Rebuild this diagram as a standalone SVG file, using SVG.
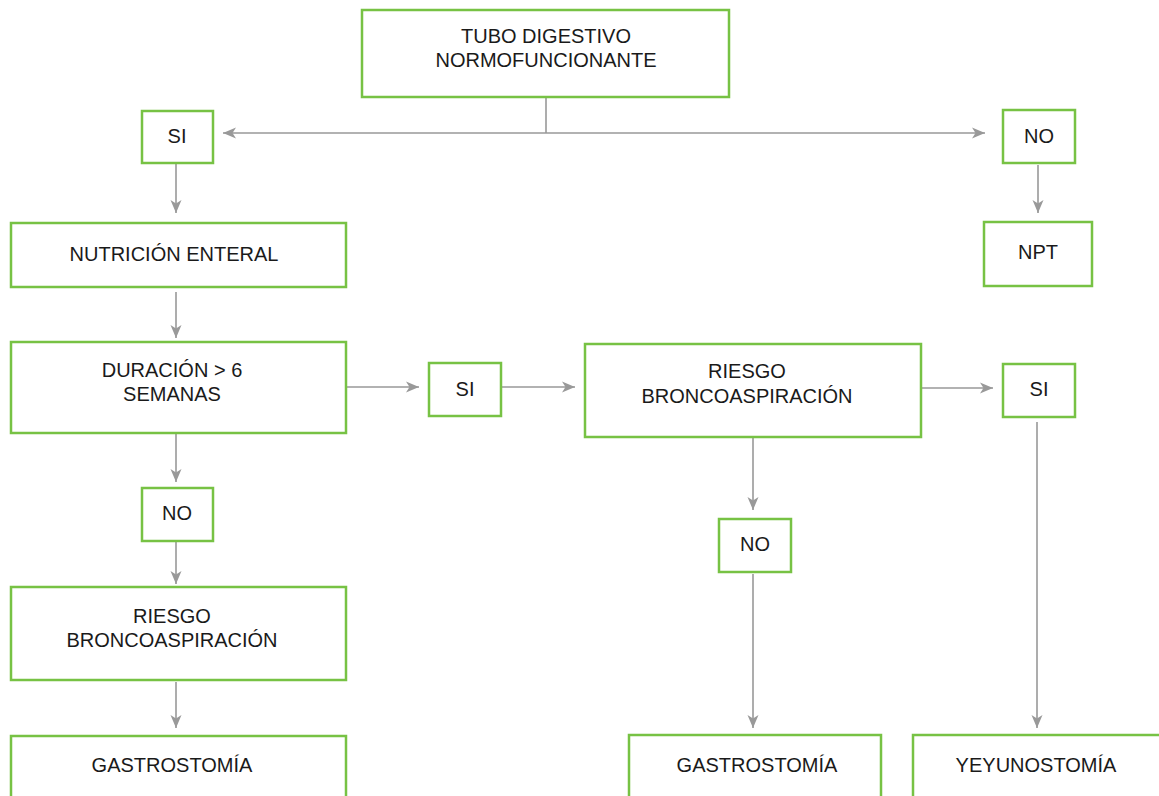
<svg xmlns="http://www.w3.org/2000/svg" width="1159" height="796" viewBox="0 0 1159 796">
<style>
.box{fill:#fff;stroke:#77c244;stroke-width:2.5}
.t{font-family:"Liberation Sans",Arial,sans-serif;font-size:20px;fill:#1a1a1a;text-anchor:middle}
.c{fill:none;stroke:#999;stroke-width:1.6}
</style>
<defs>
<marker id="ah" markerUnits="userSpaceOnUse" markerWidth="14" markerHeight="12" refX="13" refY="6" orient="auto-start-reverse" viewBox="0 0 14 12">
<path d="M0,0.5 L13,6 L0,11.5 L3.5,6 Z" fill="#999"/>
</marker>
</defs>
<rect width="1159" height="796" fill="#fff"/>
<g id="connectors">
<line class="c" x1="546" y1="97" x2="546" y2="133"/>
<line class="c" x1="223" y1="133" x2="985" y2="133" marker-start="url(#ah)" marker-end="url(#ah)"/>
<line class="c" x1="176" y1="164" x2="176" y2="213" marker-end="url(#ah)"/>
<line class="c" x1="1038" y1="165" x2="1038" y2="213" marker-end="url(#ah)"/>
<line class="c" x1="176" y1="292" x2="176" y2="338" marker-end="url(#ah)"/>
<line class="c" x1="346" y1="387" x2="419" y2="387" marker-end="url(#ah)"/>
<line class="c" x1="501" y1="387" x2="575" y2="387" marker-end="url(#ah)"/>
<line class="c" x1="921" y1="388" x2="993" y2="388" marker-end="url(#ah)"/>
<line class="c" x1="176" y1="434" x2="176" y2="482" marker-end="url(#ah)"/>
<line class="c" x1="176" y1="542" x2="176" y2="584" marker-end="url(#ah)"/>
<line class="c" x1="176" y1="682" x2="176" y2="728" marker-end="url(#ah)"/>
<line class="c" x1="753" y1="437" x2="753" y2="510" marker-end="url(#ah)"/>
<line class="c" x1="753" y1="574" x2="753" y2="728" marker-end="url(#ah)"/>
<line class="c" x1="1037" y1="422" x2="1037" y2="728" marker-end="url(#ah)"/>
</g>
<g id="n-tubo"><rect class="box" x="362" y="10" width="367" height="87"/><text class="t" x="546" y="43">TUBO DIGESTIVO</text><text class="t" x="546" y="67">NORMOFUNCIONANTE</text></g>
<g id="n-si1"><rect class="box" x="142" y="111" width="71" height="52"/><text class="t" x="177" y="143">SI</text></g>
<g id="n-no1"><rect class="box" x="1003" y="110" width="72" height="53"/><text class="t" x="1039" y="143">NO</text></g>
<g id="n-nutricion"><rect class="box" x="11" y="223" width="335" height="64"/><text class="t" x="174" y="261">NUTRICIÓN ENTERAL</text></g>
<g id="n-npt"><rect class="box" x="984" y="222" width="108" height="64"/><text class="t" x="1038" y="259">NPT</text></g>
<g id="n-duracion"><rect class="box" x="11" y="342" width="335" height="91"/><text class="t" x="172" y="377">DURACIÓN &gt; 6</text><text class="t" x="172" y="401">SEMANAS</text></g>
<g id="n-si2"><rect class="box" x="429" y="363" width="72" height="53"/><text class="t" x="465" y="396">SI</text></g>
<g id="n-riesgo1"><rect class="box" x="585" y="344" width="336" height="93"/><text class="t" x="747" y="378">RIESGO</text><text class="t" x="747" y="403">BRONCOASPIRACIÓN</text></g>
<g id="n-si3"><rect class="box" x="1003" y="364" width="72" height="53"/><text class="t" x="1039" y="396">SI</text></g>
<g id="n-no2"><rect class="box" x="142" y="488" width="71" height="53"/><text class="t" x="177" y="520">NO</text></g>
<g id="n-no3"><rect class="box" x="719" y="519" width="72" height="53"/><text class="t" x="755" y="551">NO</text></g>
<g id="n-riesgo2"><rect class="box" x="11" y="587" width="335" height="93"/><text class="t" x="172" y="623">RIESGO</text><text class="t" x="172" y="647">BRONCOASPIRACIÓN</text></g>
<g id="n-gastro1"><rect class="box" x="11" y="736" width="335" height="80"/><text class="t" x="172" y="772">GASTROSTOMÍA</text></g>
<g id="n-gastro2"><rect class="box" x="629" y="735" width="252" height="80"/><text class="t" x="757" y="772">GASTROSTOMÍA</text></g>
<g id="n-yeyuno"><rect class="box" x="913" y="735" width="260" height="80"/><text class="t" x="1036" y="772">YEYUNOSTOMÍA</text></g>
</svg>
